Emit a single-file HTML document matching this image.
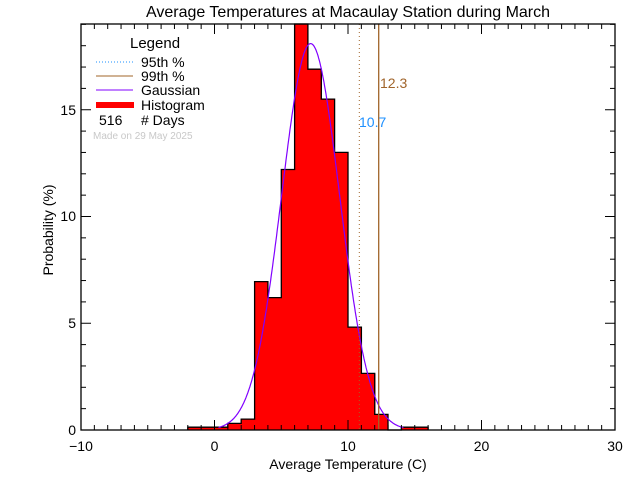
<!DOCTYPE html>
<html><head><style>
body{margin:0;background:#fff}
svg text{font-family:"Liberation Sans",sans-serif}
</style></head><body>
<svg id="s" width="640" height="480" xmlns="http://www.w3.org/2000/svg">
<rect width="640" height="480" fill="#fff"/>
<g id="bars" shape-rendering="crispEdges"></g>
<path id="st" fill="none" stroke="#000" stroke-width="1.3"/>
<path id="g" fill="none" stroke="#8000ff" stroke-width="1.2"/>
<line x1="359.3" y1="24" x2="359.3" y2="430" stroke="#a0642a" stroke-dasharray="1,3"/>
<line x1="378.7" y1="24" x2="378.7" y2="430" stroke="#a0642a" stroke-width="1.3"/>
<text x="380" y="88" font-size="14" fill="#a0642a">12.3</text>
<text x="359" y="127" font-size="14" fill="#1e90ff">10.7</text>
<rect x="81" y="24" width="534" height="406" fill="none" stroke="#000" stroke-width="1.3"/>
<g id="ticks" stroke="#000" stroke-width="1"></g>
<g font-size="14" fill="#000">
<text x="348" y="17" text-anchor="middle" font-size="16">Average Temperatures at Macaulay Station during March</text>
<text x="81" y="451" text-anchor="middle">−10</text>
<text x="214.5" y="451" text-anchor="middle">0</text>
<text x="348" y="451" text-anchor="middle">10</text>
<text x="481.5" y="451" text-anchor="middle">20</text>
<text x="615" y="451" text-anchor="middle">30</text>
<text x="348" y="469" text-anchor="middle">Average Temperature (C)</text>
<text x="76" y="435" text-anchor="end">0</text>
<text x="76" y="328" text-anchor="end">5</text>
<text x="76" y="221" text-anchor="end">10</text>
<text x="76" y="115" text-anchor="end">15</text>
<text transform="translate(53,230) rotate(-90)" text-anchor="middle">Probability       (%)</text>
<text x="130" y="48" font-size="15">Legend</text>
<line x1="96" y1="62" x2="133" y2="62" stroke="#1e90ff" stroke-dasharray="1,2"/>
<text x="141" y="67">95th %</text>
<line x1="96" y1="76" x2="133" y2="76" stroke="#a0642a"/>
<text x="141" y="81">99th %</text>
<line x1="96" y1="90" x2="133" y2="90" stroke="#8000ff"/>
<text x="141" y="95">Gaussian</text>
<rect x="96" y="102" width="38" height="6" fill="#f00"/>
<text x="141" y="110">Histogram</text>
<text x="99" y="125">516</text>
<text x="141" y="125"># Days</text>
<text x="93" y="139" font-size="10" fill="#c8c8c8">Made on 29 May 2025</text>
</g>
</svg>
<script>
var X=v=>214.5+13.35*v, Y=p=>430-21.35*p, NS="http://www.w3.org/2000/svg";
var h=[[-2,0.13],[-1,0.13],[0,0.13],[1,0.31],[2,0.51],[3,6.95],[4,6.2],[5,12.2],[6,19.5],[7,16.9],[8,15.5],[9,13.0],[10,4.82],[11,2.65],[12,0.73],[13,0],[14,0.13],[15,0.13]];
var b=document.getElementById('bars'),sp='M'+X(-2)+',430';
h.forEach(function(d){var y=Math.max(Y(d[1]),24);var r=document.createElementNS(NS,'rect');
r.setAttribute('x',X(d[0])-0.5);r.setAttribute('y',y);r.setAttribute('width',14.4);r.setAttribute('height',430-y);
r.setAttribute('fill','#f00');b.appendChild(r);sp+='L'+X(d[0]).toFixed(1)+','+y.toFixed(1)+'L'+X(d[0]+1).toFixed(1)+','+y.toFixed(1);});
sp+='L'+X(16)+',430';
document.getElementById('st').setAttribute('d',sp);
var p='';for(var v=0.3;v<=14.2;v+=0.05){var g=18.1*Math.exp(-(v-7.2)*(v-7.2)/(2*4.73));p+=(p?'L':'M')+X(v).toFixed(1)+','+Y(g).toFixed(1);}
document.getElementById('g').setAttribute('d',p);
var t=document.getElementById('ticks'),L=function(a,b2,c,d){var l=document.createElementNS(NS,'line');l.setAttribute('x1',a);l.setAttribute('y1',b2);l.setAttribute('x2',c);l.setAttribute('y2',d);t.appendChild(l);};
for(var v=-10;v<=30;v++){var x=X(v),n=(v%10==0)?10:5;L(x,430,x,430-n);L(x,24,x,24+n);}
for(var q=0;q<=19;q++){var y=Y(q),n=(q%5==0)?10:5;L(81,y,81+n,y);L(615,y,615-n,y);}
</script>
</body></html>
